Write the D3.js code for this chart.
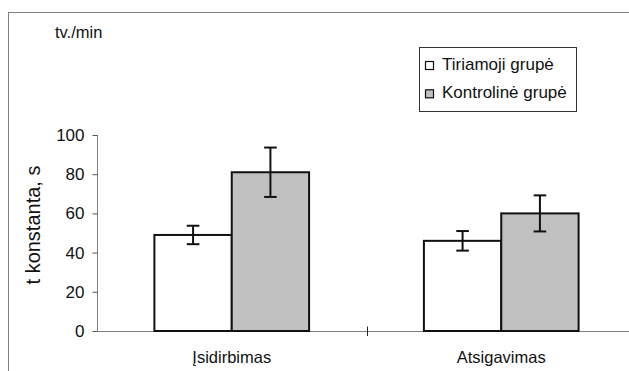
<!DOCTYPE html>
<html>
<head>
<meta charset="utf-8">
<script src="https://cdn.jsdelivr.net/npm/d3@7"></script>
<style>
  html, body { margin: 0; padding: 0; background: #fff; }
  svg { display: block; font-family: "Liberation Sans", Arial, sans-serif; }
</style>
</head>
<body>
<svg id="chart" width="629" height="371"></svg>
<script>
// Categories and groups
const categories = ["Įsidirbimas", "Atsigavimas"];
const seriesNames = ["Tiriamoji grupė", "Kontrolinė grupė"];
const seriesColors = ["#ffffff", "#c0c0c0"];

// Means and error half-widths (t konstanta, s)
const tiriamoji = [49, 46];
const tiriamojiErr = [4.7, 5];
const kontroline = [81, 60];
const kontrolineErr = [12.6, 9.2];

const yTicks = [0, 20, 40, 60, 80, 100];

const svg = d3.select("#chart");

// Outer chart frame (runs past the right/bottom edge of the view)
svg.append("rect")
  .attr("x", 8.5).attr("y", 12.5)
  .attr("width", 700).attr("height", 400)
  .attr("fill", "none").attr("stroke", "#808080").attr("stroke-width", 1);

const left = 97, axisY = 331, topY = 135;

const y = d3.scaleLinear().domain([0, 100]).range([axisY, topY]);
const x0 = d3.scaleBand().domain(categories).range([left, 636]).padding(0);
const groupW = x0.bandwidth() * 0.574;
const x1 = d3.scaleBand().domain(seriesNames).range([0, groupW]).padding(0);
const groupOffset = (x0.bandwidth() - groupW) / 2;

const rows = categories.map((c, i) => ({
  cat: c,
  values: [
    { name: seriesNames[0], v: tiriamoji[i], e: tiriamojiErr[i], color: seriesColors[0] },
    { name: seriesNames[1], v: kontroline[i], e: kontrolineErr[i], color: seriesColors[1] }
  ]
}));

// Y axis
const yAxis = svg.append("g")
  .attr("transform", `translate(${left + 0.5},0)`)
  .call(d3.axisLeft(y).tickValues(yTicks).tickSize(5).tickPadding(8).tickFormat(d3.format("d")));
yAxis.select(".domain").attr("stroke", "#808080").attr("d", `M0,${axisY}V${topY}`);
yAxis.selectAll(".tick line").attr("stroke", "#555");
yAxis.selectAll(".tick text")
  .attr("fill", "#111").style("font-size", "17px")
  .attr("font-family", "Liberation Sans, Arial, sans-serif");

// X axis with ticks at band boundaries
svg.append("line")
  .attr("x1", left).attr("x2", 640)
  .attr("y1", axisY + 0.5).attr("y2", axisY + 0.5)
  .attr("stroke", "#808080");
const boundaries = categories.slice(1).map(c => x0(c));
svg.selectAll(".xtick").data(boundaries).enter().append("line")
  .attr("class", "xtick")
  .attr("x1", d => Math.round(d) + 0.5).attr("x2", d => Math.round(d) + 0.5)
  .attr("y1", axisY - 4.5).attr("y2", axisY + 5)
  .attr("stroke", "#222");

svg.selectAll(".xlabel").data(categories).enter().append("text")
  .attr("class", "xlabel")
  .attr("x", d => x0(d) + x0.bandwidth() / 2)
  .attr("y", 363)
  .attr("text-anchor", "middle")
  .attr("fill", "#111")
  .style("font-size", "16.5px")
  .text(d => d);

// Bars
const groups = svg.selectAll(".grp").data(rows).enter().append("g")
  .attr("class", "grp")
  .attr("transform", d => `translate(${x0(d.cat) + groupOffset},0)`);

groups.selectAll("rect").data(d => d.values).enter().append("rect")
  .attr("x", d => x1(d.name))
  .attr("y", d => y(d.v))
  .attr("width", x1.bandwidth())
  .attr("height", d => y(0) - y(d.v))
  .attr("fill", d => d.color)
  .attr("stroke", "#111")
  .attr("stroke-width", 2);

// Error bars
const capW = 12.6;
const eb = groups.selectAll(".eb").data(d => d.values).enter().append("g").attr("class", "eb");
eb.append("line")
  .attr("x1", d => x1(d.name) + x1.bandwidth() / 2)
  .attr("x2", d => x1(d.name) + x1.bandwidth() / 2)
  .attr("y1", d => y(d.v + d.e)).attr("y2", d => y(d.v - d.e))
  .attr("stroke", "#111").attr("stroke-width", 2);
eb.append("line")
  .attr("x1", d => x1(d.name) + x1.bandwidth() / 2 - capW / 2)
  .attr("x2", d => x1(d.name) + x1.bandwidth() / 2 + capW / 2)
  .attr("y1", d => y(d.v + d.e)).attr("y2", d => y(d.v + d.e))
  .attr("stroke", "#111").attr("stroke-width", 2);
eb.append("line")
  .attr("x1", d => x1(d.name) + x1.bandwidth() / 2 - capW / 2)
  .attr("x2", d => x1(d.name) + x1.bandwidth() / 2 + capW / 2)
  .attr("y1", d => y(d.v - d.e)).attr("y2", d => y(d.v - d.e))
  .attr("stroke", "#111").attr("stroke-width", 2);

// Axis title and unit note
svg.append("text")
  .attr("transform", "translate(40,225) rotate(-90)")
  .attr("text-anchor", "middle")
  .attr("fill", "#111")
  .style("font-size", "20px")
  .text("t konstanta, s");

svg.append("text")
  .attr("x", 55).attr("y", 37.5)
  .attr("fill", "#111")
  .style("font-size", "16.5px")
  .text("tv./min");

// Legend
const legend = svg.append("g");
legend.append("rect")
  .attr("x", 419.5).attr("y", 47.5)
  .attr("width", 157).attr("height", 64)
  .attr("fill", "#fff").attr("stroke", "#333").attr("stroke-width", 1);
const items = legend.selectAll(".li").data(seriesNames).enter().append("g")
  .attr("class", "li")
  .attr("transform", (d, i) => `translate(0,${70 + i * 28.3})`);
items.append("rect")
  .attr("x", 425.5).attr("y", -8.5)
  .attr("width", 8).attr("height", 8)
  .attr("fill", (d, i) => seriesColors[i])
  .attr("stroke", "#111").attr("stroke-width", 1.2);
items.append("text")
  .attr("x", 442).attr("y", 0)
  .attr("fill", "#111")
  .style("font-size", "17px")
  .text(d => d);
</script>
</body>
</html>
